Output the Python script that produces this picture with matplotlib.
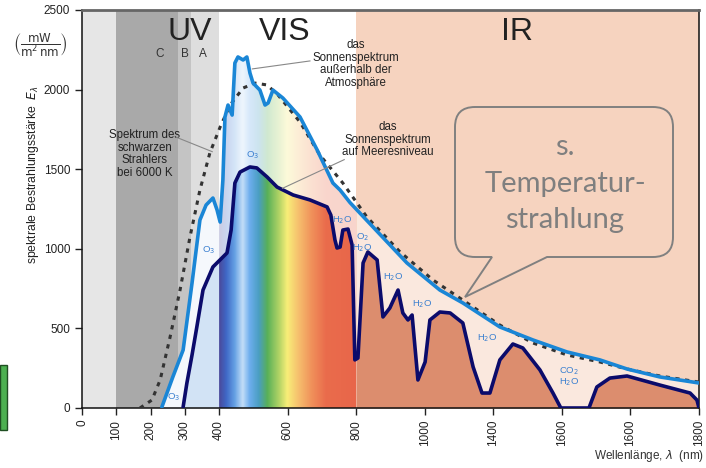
import numpy as np
import matplotlib.pyplot as plt
from matplotlib.colors import LinearSegmentedColormap, to_rgb
from matplotlib.path import Path
from matplotlib.patches import PathPatch, Rectangle

plt.rcParams['font.family'] = ['Liberation Sans', 'DejaVu Sans']

# Sonnenspektrum ausserhalb der Atmosphaere (nm, mW/(m^2 nm))
am0_wl = [233, 265, 295, 321, 344, 362, 382, 394, 403, 411, 417, 426, 438, 446, 455,
          470, 481, 490, 499, 519, 534, 543, 557, 586, 636, 686, 732, 753, 782, 849,
          948, 1044, 1111, 1219, 1316, 1415, 1511, 1590, 1686, 1800]
am0_irr = [6, 195, 364, 785, 1181, 1275, 1319, 1244, 1168, 1432, 1828, 1903, 1840, 2167, 2205,
           2186, 2205, 2104, 2041, 1997, 1903, 1916, 1997, 1947, 1828, 1621, 1413, 1369, 1290, 1137,
           911, 741, 660, 509, 427, 352, 302, 245, 195, 157]

# Sonnenspektrum auf Meeresniveau
sea_wl = [295, 306, 321, 335, 353, 382, 423, 435, 446, 461, 490, 510, 540, 569, 616,
          665, 715, 726, 738, 744, 753, 761, 776, 788, 796, 805, 820, 834, 861, 878,
          898, 922, 936, 951, 963, 980, 1001, 1015, 1044, 1074, 1111, 1141, 1167, 1190, 1219,
          1257, 1286, 1336, 1374, 1397, 1479, 1502, 1540, 1590, 1686, 1774, 1794, 1800]
sea_irr = [6, 157, 333, 509, 741, 886, 974, 1118, 1413, 1482, 1514, 1508, 1451, 1388, 1338,
           1307, 1263, 1212, 1055, 1005, 1011, 1118, 1124, 1024, 302, 314, 911, 980, 930, 572,
           628, 741, 597, 553, 584, 176, 289, 553, 603, 597, 534, 258, 94, 94, 302,
           402, 377, 239, 94, 0, 0, 132, 188, 201, 144, 94, 50, 0]

# Schwarzer Strahler bei 6000 K
bb_wl = [169, 204, 228, 257, 286, 315, 344, 373, 403, 432, 470, 505, 540, 572, 636,
         694, 761, 831, 928, 1024, 1111, 1219, 1316, 1415, 1511, 1590, 1686, 1800]
bb_irr = [0, 50, 176, 446, 741, 1074, 1369, 1602, 1765, 1903, 2010, 2041, 2029, 1966, 1796,
          1589, 1413, 1200, 980, 804, 678, 521, 408, 333, 289, 245, 201, 163]

tick_pos = [0, 100, 200, 300, 400, 600, 800, 1000, 1200, 1400, 1600, 1800]
tick_labels = ['0', '100', '200', '300', '400', '600', '800', '1000', '1400', '1600', '1600', '1800']

# spectral colours of the visible band
vis_stops = [(400, '#4a4a9c'), (420, '#3f68c6'), (445, '#66a2e4'), (468, '#c4def8'),
             (488, '#6eaeee'), (515, '#4a9ec2'), (540, '#58b058'), (575, '#b4d466'),
             (598, '#f8ee78'), (630, '#f6c06e'), (670, '#f0905a'), (710, '#ea6c4c'),
             (800, '#e8664a')]

W, H = 706, 468
fig = plt.figure(figsize=(W / 100, H / 100), dpi=100)
ax = fig.add_axes([82 / W, 1 - 408 / H, 617 / W, 398 / H])
ax.set_xlim(0, 1800)
ax.set_ylim(0, 2500)

# UV / VIS / IR bands
ax.axvspan(0, 100, color='#e6e6e6', lw=0, zorder=0)
ax.axvspan(100, 280, color='#a9a9a9', lw=0, zorder=0)
ax.axvspan(280, 318, color='#c4c4c4', lw=0, zorder=0)
ax.axvspan(318, 400, color='#dedede', lw=0, zorder=0)
ax.axvspan(400, 800, color='white', lw=0, zorder=0)
ax.axvspan(800, 1800, color='#f6d3bf', lw=0, zorder=0)

am0_x = np.array(am0_wl, float)
am0_y = np.array(am0_irr, float)
sea_x = np.array(sea_wl, float)
sea_y = np.array(sea_irr, float)


def band_fill(x, y, lo, hi, **kw):
    m = (x >= lo) & (x <= hi)
    xs = np.concatenate([[lo], x[m], [hi]])
    ys = np.concatenate([[np.interp(lo, x, y)], y[m], [np.interp(hi, x, y)]])
    return ax.fill_between(xs, 0, ys, lw=0, **kw)


vis_pos = [(w - 400) / 400 for w, _ in vis_stops]
vis_cmap = LinearSegmentedColormap.from_list('vis', list(zip(vis_pos, [c for _, c in vis_stops])))
pale = [tuple(0.72 + 0.28 * np.array(to_rgb(c))) for _, c in vis_stops]
pale_cmap = LinearSegmentedColormap.from_list('vis_pale', list(zip(vis_pos, pale)))
grad = np.linspace(0, 1, 400).reshape(1, -1)

# outside the atmosphere
band_fill(am0_x, am0_y, 233, 400, color='#f5f8fc', zorder=1)
band_fill(am0_x, am0_y, 800, 1800, color='#fae8de', zorder=1)
poly = band_fill(am0_x, am0_y, 400, 800, color='none', zorder=1)
img = ax.imshow(grad, cmap=pale_cmap, extent=(400, 800, 0, 2500), aspect='auto', zorder=1)
img.set_clip_path(poly.get_paths()[0], transform=ax.transData)

# sea level
band_fill(sea_x, sea_y, 295, 400, color='#d2e3f5', zorder=2)
band_fill(sea_x, sea_y, 800, 1800, color='#dc8d6e', zorder=2)
poly = band_fill(sea_x, sea_y, 400, 800, color='none', zorder=2)
img = ax.imshow(grad, cmap=vis_cmap, extent=(400, 800, 0, 2500), aspect='auto', zorder=2)
img.set_clip_path(poly.get_paths()[0], transform=ax.transData)

ax.plot(bb_wl, bb_irr, color='#333333', lw=2.2, ls=(0, (1.4, 1.8)), zorder=3)
ax.plot(am0_wl, am0_irr, color='#1a86d6', lw=2.6, zorder=4,
        solid_joinstyle='round', solid_capstyle='round')
ax.plot(sea_wl, sea_irr, color='#0b0b6b', lw=2.6, zorder=5,
        solid_joinstyle='round', solid_capstyle='round')

# axes
ax.set_xticks(tick_pos)
ax.set_xticklabels(tick_labels, rotation=90)
ax.set_yticks([0, 500, 1000, 1500, 2000, 2500])
ax.tick_params(axis='both', direction='out', length=5, width=1, labelsize=8.5, colors='#222222')
for side in ['left', 'right', 'bottom']:
    ax.spines[side].set_color('#111111')
    ax.spines[side].set_linewidth(1.1)
ax.spines['top'].set_color('#666666')
ax.spines['top'].set_linewidth(2)

# band titles
ax.text(315, 2360, 'UV', fontsize=23, ha='center', va='center', color='#222222')
ax.text(590, 2360, 'VIS', fontsize=23, ha='center', va='center', color='#222222')
ax.text(1270, 2360, 'IR', fontsize=23, ha='center', va='center', color='#222222')
for lab, wl in [('C', 227), ('B', 300), ('A', 353)]:
    ax.text(wl, 2225, lab, fontsize=8.5, ha='center', va='center', color='#333333')

txt = dict(fontsize=8.3, ha='center', va='center', color='#222222', linespacing=1.05)
ax.text(183, 1595, 'Spektrum des\nschwarzen\nStrahlers\nbei 6000 K', **txt)
ax.text(800, 2160, 'das\nSonnenspektrum\naußerhalb der\nAtmosphäre', **txt)
ax.text(893, 1685, 'das\nSonnenspektrum\nauf Meeresniveau', **txt)
ax.plot([276, 380], [1700, 1610], color='#888888', lw=0.8, zorder=6)
ax.plot([665, 497], [2180, 2130], color='#888888', lw=0.8, zorder=6)
ax.plot([765, 585], [1560, 1380], color='#888888', lw=0.8, zorder=6)

mol = dict(fontsize=6.8, ha='center', va='center', color='#3b80d0', zorder=7, linespacing=0.95)
ax.text(499, 1585, r'O$_3$', **mol)
ax.text(368, 990, r'O$_3$', **mol)
ax.text(268, 65, r'O$_3$', **mol)
ax.text(760, 1180, r'H$_2$O', **mol)
ax.text(818, 1040, 'O$_2$\nH$_2$O', **mol)
ax.text(907, 820, r'H$_2$O', **mol)
ax.text(993, 650, r'H$_2$O', **mol)
ax.text(1183, 440, r'H$_2$O', **mol)
ax.text(1420, 195, 'CO$_2$\nH$_2$O', **mol)

# axis titles
fig.text(33 / W, 1 - 175 / H, r'spektrale Bestrahlungsstärke  $E_\lambda$', rotation=90,
         fontsize=8.8, ha='center', va='center', color='#222222')
fig.text(40 / W, 1 - 45 / H, r'$\left(\dfrac{\mathrm{mW}}{\mathrm{m^2\,nm}}\right)$',
         fontsize=8.5, ha='center', va='center', color='#333333')
fig.text(704 / W, 1 - 456 / H, r'Wellenlänge, $\lambda$  (nm)', fontsize=8.5,
         ha='right', va='center', color='#333333')

# speech bubble
x0, x1, y0, y1, r = 455, 673, 107, 257, 20
tail = [(547, y1), (465, 297), (492, y1)]
pts = [(x0 + r, y0), (x1 - r, y0), (x1, y0), (x1, y0 + r), (x1, y1 - r), (x1, y1), (x1 - r, y1),
       tail[0], tail[1], tail[2], (x0 + r, y1), (x0, y1), (x0, y1 - r), (x0, y0 + r), (x0, y0),
       (x0 + r, y0), (x0 + r, y0)]
codes = [Path.MOVETO, Path.LINETO, Path.CURVE3, Path.CURVE3, Path.LINETO, Path.CURVE3, Path.CURVE3,
         Path.LINETO, Path.LINETO, Path.LINETO, Path.LINETO, Path.CURVE3, Path.CURVE3, Path.LINETO,
         Path.CURVE3, Path.CURVE3, Path.CLOSEPOLY]
verts = [(px / W, 1 - py / H) for px, py in pts]
fig.patches.append(PathPatch(Path(verts, codes), transform=fig.transFigure, facecolor='none',
                             edgecolor='#808080', lw=1.4, zorder=10))
for line, py in [('s.', 147), ('Temperatur-', 184), ('strahlung', 220)]:
    fig.text(565 / W, 1 - py / H, line, fontsize=21, ha='center', va='center',
             color='#7f7f7f', family=['Lato', 'DejaVu Sans'])

# green button edge at the left margin
fig.patches.append(Rectangle((0, 1 - 430 / H), 7 / W, 65 / H, transform=fig.transFigure,
                             facecolor='#4cb050', edgecolor='#1f4f22', lw=1.0))

fig.savefig('out.png', dpi=100)
